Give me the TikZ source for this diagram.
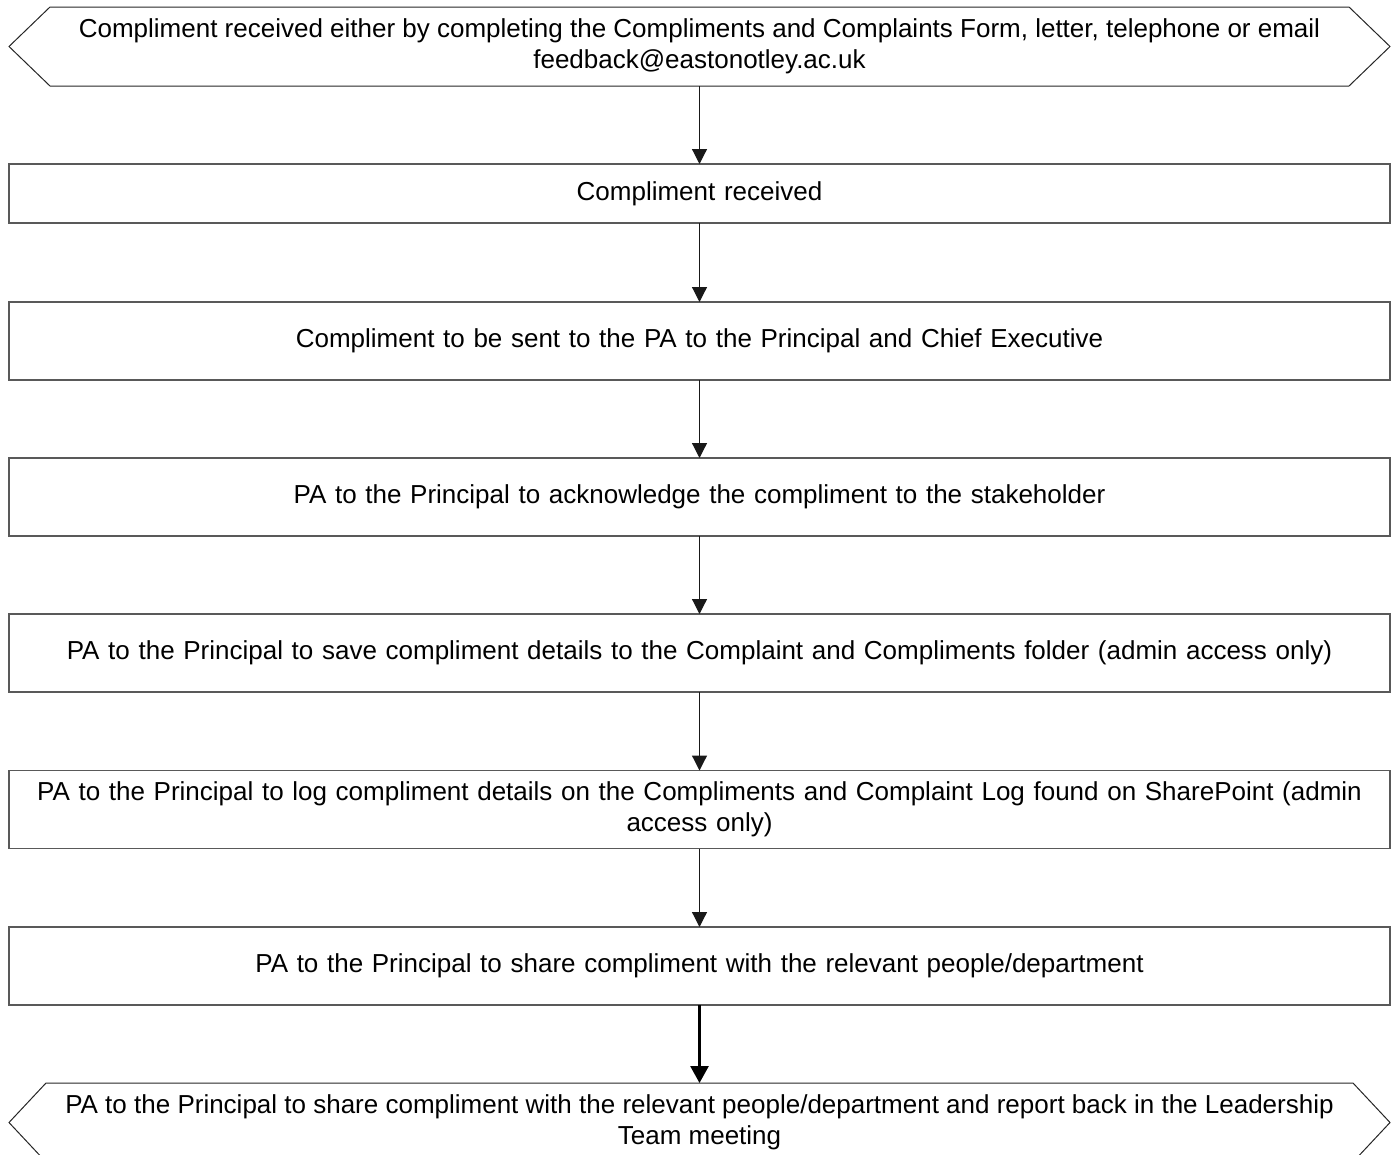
\documentclass[tikz,border=0pt]{standalone}
\usepackage{fontspec}
\setmainfont{Liberation Sans}
\usetikzlibrary{arrows.meta,calc}
\hyphenpenalty=10000
\exhyphenpenalty=10000
\begin{document}
\begin{tikzpicture}[x=1pt,y=-1pt,
  lbl/.style={align=center, font=\fontsize{26}{31}\selectfont, inner sep=0pt, outer sep=0pt},
  stepbox/.style={lbl, draw=black!65, line width=1.3pt, minimum width=1381pt, minimum height=78pt, text width=1365pt},
  hexbox/.style={lbl, minimum width=1381pt, minimum height=79pt},
  hexline/.style={draw=black!85, line width=1pt},
  arr/.style={draw=black!90, line width=1.2pt, -{Triangle[width=15pt,length=15pt]}},
  thickarr/.style={draw=black, line width=2.8pt, -{Triangle[width=18pt,length=17pt]}}]
\useasboundingbox (0,0) rectangle (1397,1154);
\node[hexbox] (h0) at (699.5,46.5) {Compliment received either by completing the Compliments and Complaints Form, letter, telephone or email\\feedback@eastonotley.ac.uk};
\draw[hexline] (h0.west) -- ([xshift=41pt]h0.north west) -- ([xshift=-41pt]h0.north east) -- (h0.east) -- ([xshift=-41pt]h0.south east) -- ([xshift=41pt]h0.south west) -- cycle;
\node[stepbox, minimum height=59pt] (b1) at (699.5,193.5) {Compliment received};
\node[stepbox] (b2) at (699.5,341) {Compliment to be sent to the PA to the Principal and Chief Executive};
\node[stepbox] (b3) at (699.5,497) {PA to the Principal to acknowledge the compliment to the stakeholder};
\node[stepbox] (b4) at (699.5,653) {PA to the Principal to save compliment details to the Complaint and Compliments folder (admin access only)};
\node[stepbox] (b5) at (699.5,809.5) {PA to the Principal to log compliment details on the Compliments and Complaint Log found on SharePoint (admin\\access only)};
\node[stepbox] (b6) at (699.5,966) {PA to the Principal to share compliment with the relevant people/department};
\node[hexbox] (h1) at (699.5,1122.5) {PA to the Principal to share compliment with the relevant people/department and report back in the Leadership\\Team meeting};
\draw[hexline] (h1.west) -- ([xshift=37pt]h1.north west) -- ([xshift=-37pt]h1.north east) -- (h1.east) -- ([xshift=-37pt]h1.south east) -- ([xshift=37pt]h1.south west) -- cycle;
\draw[arr] (h0) -- (b1);
\draw[arr] (b1) -- (b2);
\draw[arr] (b2) -- (b3);
\draw[arr] (b3) -- (b4);
\draw[arr] (b4) -- (b5);
\draw[arr] (b5) -- (b6);
\draw[thickarr] (b6) -- (h1);
\end{tikzpicture}
\end{document}
